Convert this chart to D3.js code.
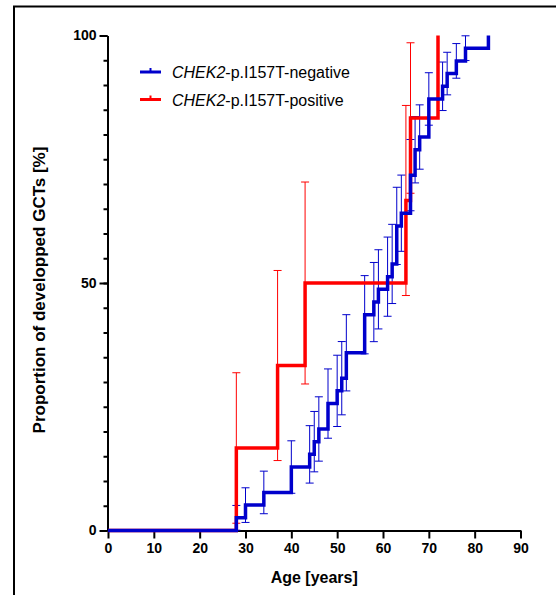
<!DOCTYPE html>
<meta charset="utf-8">
<style>
body { margin: 0; background: #fff; }
svg { display: block; font-family: "Liberation Sans", Arial, sans-serif; }
.axis path, .axis line { stroke: #000; stroke-width: 2px; }
.axis text { font-weight: bold; font-size: 14px; fill: #000; font-family: "Liberation Sans", Arial, sans-serif; }
</style>
<svg width="556" height="595"></svg>
<script src="https://d3js.org/d3.v7.min.js"></script>
<script>
// CHEK2-p.I157T-negative (blue) : age at step, cumulative %, error (SE)
var negAges = [0, 28, 30, 34, 40, 44, 45, 46, 48, 50, 51, 52, 56, 58, 59, 61, 62, 63, 64, 66, 67, 68, 70, 73, 74, 76, 78, 83];
var negPct  = [0, 2.56, 5.13, 7.69, 12.82, 15.38, 17.95, 20.51, 25.64, 28.21, 30.77, 35.9, 43.59, 46.15, 48.72, 51.28, 53.85, 61.54, 64.1, 71.79, 76.92, 79.49, 87.18, 89.74, 92.31, 94.87, 97.44, 100];
var negErr  = [0, 2.5, 3.5, 4.3, 5.3, 5.8, 6.1, 6.5, 7.0, 7.2, 7.4, 7.7, 7.9, 8.0, 8.0, 8.0, 8.0, 7.8, 7.7, 7.2, 6.7, 6.5, 5.3, 4.9, 4.3, 3.5, 2.5, 0];

// CHEK2-p.I157T-positive (red)
var posAges = [0, 28, 37, 43, 65, 66, 72];
var posPct  = [0, 16.67, 33.33, 50, 66.67, 83.33, 100];
var posErr  = [0, 15.2, 19.2, 20.4, 19.2, 15.2, 0];

var xTicks = [0, 10, 20, 30, 40, 50, 60, 70, 80, 90];
var yTicks = [0, 50, 100];
var yMinor = d3.range(0, 101, 5);

var seriesNames = ["-p.I157T-negative", "-p.I157T-positive"];
var seriesColors = ["#0000cc", "#ff0000"];

var svg = d3.select("svg");

// frame of the figure panel
svg.append("path")
    .attr("d", "M14,595 V6.5 H556")
    .attr("fill", "none")
    .attr("stroke", "#000")
    .attr("stroke-width", 2);

var x = d3.scaleLinear().domain([0, 90]).range([108, 520.5]);
var y = d3.scaleLinear().domain([0, 100]).range([530.5, 35.5]);

// y axis minor ticks
svg.append("g")
    .attr("class", "axis")
    .attr("transform", "translate(" + 107.5 + ",0)")
    .call(d3.axisLeft(y).tickValues(yMinor).tickSize(4).tickFormat(""))
    .select(".domain").remove();

svg.append("g")
    .attr("class", "axis")
    .attr("transform", "translate(" + 107.5 + ",0)")
    .call(d3.axisLeft(y).tickValues(yTicks).tickSize(8).tickSizeOuter(0).tickPadding(3));

svg.append("g")
    .attr("class", "axis")
    .attr("transform", "translate(0," + 530.5 + ")")
    .call(d3.axisBottom(x).tickValues(xTicks).tickSize(8).tickSizeOuter(0).tickPadding(5));

svg.selectAll(".axis text").style("font-size", "14px");

// axis titles
svg.append("text")
    .attr("x", x(45))
    .attr("y", 583)
    .attr("text-anchor", "middle")
    .style("font-weight", "bold")
    .style("font-size", "16px")
    .text("Age [years]");

svg.append("text")
    .attr("transform", "translate(45," + 290 + ") rotate(-90)")
    .attr("text-anchor", "middle")
    .style("font-weight", "bold")
    .style("font-size", "17px")
    .text("Proportion of developped GCTs [%]");

var line = d3.line()
    .x(function(d) { return x(d.age); })
    .y(function(d) { return y(d.pct); })
    .curve(d3.curveStepAfter);

function makeData(ages, pct, err) {
  return ages.map(function(a, i) { return {age: a, pct: pct[i], err: err[i]}; });
}

var series = [
  {data: makeData(posAges, posPct, posErr), color: seriesColors[1]},
  {data: makeData(negAges, negPct, negErr), color: seriesColors[0]}
];

var cap = 4;
series.forEach(function(s) {
  var bars = s.data.filter(function(d) { return d.err > 0; });
  var g = svg.append("g");
  g.selectAll("line.bar")
    .data(bars).enter().append("line")
    .attr("x1", function(d) { return x(d.age); })
    .attr("x2", function(d) { return x(d.age); })
    .attr("y1", function(d) { return y(d.pct - d.err); })
    .attr("y2", function(d) { return y(d.pct + d.err); })
    .attr("stroke", s.color).attr("stroke-width", 1);
  [1, -1].forEach(function(sign) {
    g.selectAll(null)
      .data(bars).enter().append("line")
      .attr("x1", function(d) { return x(d.age) - cap; })
      .attr("x2", function(d) { return x(d.age) + cap; })
      .attr("y1", function(d) { return y(d.pct + sign * d.err); })
      .attr("y2", function(d) { return y(d.pct + sign * d.err); })
      .attr("stroke", s.color).attr("stroke-width", 1);
  });
});

series.forEach(function(s) {
  svg.append("path")
    .datum(s.data)
    .attr("d", line)
    .attr("fill", "none")
    .attr("stroke", s.color)
    .attr("stroke-width", 3.5);
});

// legend
var legend = svg.append("g");
[0, 1].forEach(function(i) {
  var ly = 72 + i * 27.5;
  legend.append("line")
    .attr("x1", 140).attr("x2", 161).attr("y1", ly).attr("y2", ly)
    .attr("stroke", seriesColors[i]).attr("stroke-width", 3);
  legend.append("line")
    .attr("x1", 150.5).attr("x2", 150.5).attr("y1", ly - 4).attr("y2", ly)
    .attr("stroke", seriesColors[i]).attr("stroke-width", 2);
  var t = legend.append("text")
    .attr("x", 172).attr("y", ly + 6)
    .style("font-size", "16px");
  t.append("tspan").style("font-style", "italic").text("CHEK2");
  t.append("tspan").text(seriesNames[i]);
});
</script>
